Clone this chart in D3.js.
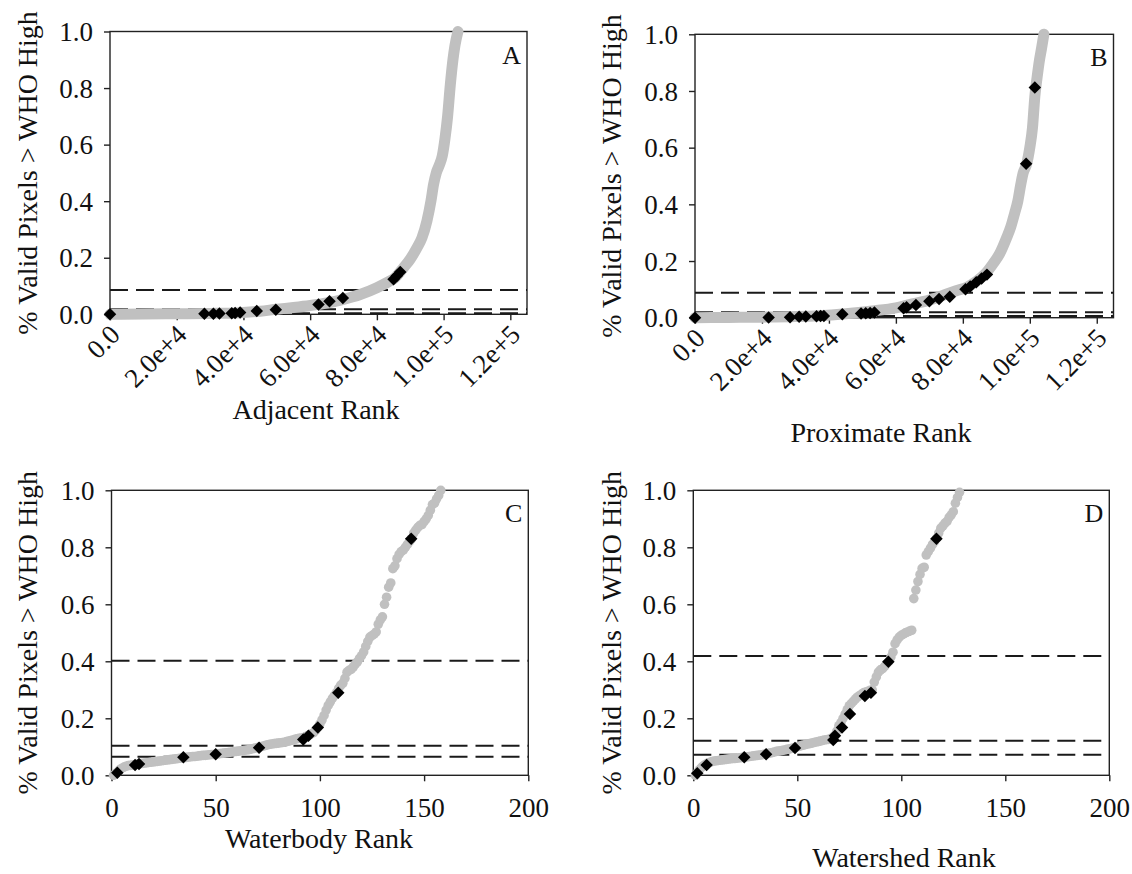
<!DOCTYPE html>
<html lang="en">
<head>
  <meta charset="UTF-8">
  <title>% Valid Pixels > WHO High by rank</title>
  <script src="https://d3js.org/d3.v7.min.js"></script>
  <style>
    body { margin: 0; background: #fff; }
    text { font-family: "Liberation Serif", "Times New Roman", serif; fill: #111; }
  </style>
</head>
<body>
<script>
  // ---- data ----
  const yTickValues = [0, 0.2, 0.4, 0.6, 0.8, 1.0];
  const yTickLabels = ["0.0", "0.2", "0.4", "0.6", "0.8", "1.0"];
  const bigTickValues = [0, 20000, 40000, 60000, 80000, 100000, 120000];
  const bigTickLabels = ["0.0", "2.0e+4", "4.0e+4", "6.0e+4", "8.0e+4", "1.0e+5", "1.2e+5"];
  const smallTickValues = [0, 50, 100, 150, 200];
  const smallTickLabels = ["0", "50", "100", "150", "200"];

  const panelLetters = ["A", "B", "C", "D"];
  const xTitles = ["Adjacent Rank", "Proximate Rank", "Waterbody Rank", "Watershed Rank"];
  const yTitle = "% Valid Pixels > WHO High";

  // dashed reference levels
  const linesA = [0.086, 0.018, 0.004];
  const linesB = [0.088, 0.019, 0.006];
  const linesC = [0.402, 0.104, 0.065];
  const linesD = [0.419, 0.121, 0.072];

  // grey curve, adjacent pixels (rank, value)
  const greyA = [[0, 0], [10000, 0.001], [20000, 0.002], [30000, 0.003], [38000, 0.005], [45000, 0.011],
    [50000, 0.018], [55000, 0.024], [60000, 0.031], [65000, 0.040], [70000, 0.053], [75000, 0.070],
    [80000, 0.094], [83000, 0.112], [85500, 0.13], [88000, 0.165], [90000, 0.195], [92000, 0.235],
    [93500, 0.27], [95000, 0.33], [96200, 0.40], [97000, 0.46], [97800, 0.50], [98800, 0.53],
    [99600, 0.56], [100400, 0.62], [101200, 0.70], [102000, 0.81], [102800, 0.90], [103400, 0.95], [104300, 1.0]];
  const greyB = [[0, 0], [10000, 0.001], [20000, 0.002], [30000, 0.004], [37000, 0.007], [45000, 0.014],
    [53000, 0.024], [60000, 0.035], [64000, 0.046], [70000, 0.062], [74800, 0.082], [78000, 0.095],
    [81300, 0.108], [84000, 0.128], [86700, 0.155], [89000, 0.19], [91000, 0.226], [93000, 0.28],
    [94300, 0.32], [95500, 0.37], [96400, 0.41], [97300, 0.47], [98000, 0.51], [99100, 0.544],
    [100000, 0.60], [100800, 0.67], [101500, 0.78], [102200, 0.85], [102900, 0.91], [103500, 0.95], [104200, 1.0]];

  // grey points, waterbody rank 1..158
  const greyC = [
    0.000, 0.006, 0.012, 0.020, 0.025, 0.029, 0.032, 0.034, 0.035, 0.036,
    0.037, 0.039, 0.040, 0.041, 0.042, 0.043, 0.044, 0.045, 0.046, 0.047,
    0.048, 0.049, 0.050, 0.051, 0.052, 0.053, 0.054, 0.055, 0.056, 0.057,
    0.058, 0.059, 0.060, 0.061, 0.062, 0.063, 0.064, 0.065, 0.066, 0.066,
    0.067, 0.068, 0.069, 0.070, 0.070, 0.071, 0.072, 0.073, 0.073, 0.074,
    0.075, 0.076, 0.077, 0.078, 0.079, 0.080, 0.081, 0.082, 0.083, 0.084,
    0.085, 0.086, 0.087, 0.088, 0.089, 0.090, 0.092, 0.094, 0.096, 0.097,
    0.099, 0.101, 0.103, 0.105, 0.107, 0.109, 0.110, 0.111, 0.112, 0.113,
    0.114, 0.115, 0.116, 0.118, 0.120, 0.122, 0.124, 0.126, 0.128, 0.130,
    0.131, 0.132, 0.135, 0.139, 0.142, 0.146, 0.150, 0.158, 0.168, 0.180,
    0.194, 0.210, 0.229, 0.245, 0.258, 0.270, 0.280, 0.290, 0.305, 0.316,
    0.323, 0.340, 0.362, 0.368, 0.372, 0.380, 0.390, 0.398, 0.410, 0.420,
    0.433, 0.452, 0.470, 0.485, 0.490, 0.495, 0.503, 0.530, 0.545, 0.556,
    0.600, 0.625, 0.660, 0.675, 0.725, 0.735, 0.760, 0.775, 0.785, 0.790,
    0.800, 0.810, 0.820, 0.830, 0.850, 0.860, 0.870, 0.877, 0.880, 0.890,
    0.900, 0.912, 0.930, 0.950, 0.955, 0.970, 0.982, 1.000];

  // grey points, watershed rank 1..128
  const greyD = [
    0.000, 0.010, 0.020, 0.028, 0.034, 0.039, 0.043, 0.046, 0.048, 0.050,
    0.051, 0.052, 0.053, 0.054, 0.055, 0.056, 0.057, 0.058, 0.059, 0.059,
    0.060, 0.061, 0.062, 0.063, 0.064, 0.065, 0.066, 0.067, 0.068, 0.069,
    0.070, 0.071, 0.072, 0.074, 0.075, 0.077, 0.078, 0.080, 0.082, 0.084,
    0.085, 0.086, 0.088, 0.089, 0.091, 0.092, 0.094, 0.096, 0.098, 0.100,
    0.102, 0.104, 0.106, 0.108, 0.110, 0.111, 0.113, 0.115, 0.117, 0.118,
    0.120, 0.122, 0.124, 0.125, 0.126, 0.128, 0.133, 0.140, 0.155, 0.174,
    0.185, 0.200, 0.215, 0.230, 0.244, 0.252, 0.260, 0.268, 0.275, 0.280,
    0.285, 0.290, 0.292, 0.295, 0.298, 0.300, 0.327, 0.345, 0.362, 0.370,
    0.374, 0.382, 0.392, 0.400, 0.415, 0.432, 0.462, 0.475, 0.485, 0.491,
    0.495, 0.500, 0.503, 0.506, 0.509, 0.620, 0.650, 0.680, 0.705, 0.726,
    0.730, 0.773, 0.785, 0.797, 0.810, 0.820, 0.832, 0.850, 0.867, 0.875,
    0.885, 0.891, 0.905, 0.914, 0.925, 0.955, 0.975, 0.993];

  // black diamonds (rank, value)
  const blackA = [[0, 0], [28300, 0.002], [31000, 0.002], [32800, 0.003], [36500, 0.004], [37500, 0.005],
    [39000, 0.006], [44000, 0.012], [49700, 0.016], [62500, 0.035], [65800, 0.046], [69800, 0.058],
    [85000, 0.124], [86000, 0.136], [87000, 0.150]];
  const blackB = [[0, 0], [22000, 0.001], [28400, 0.002], [31100, 0.003], [33100, 0.004], [36300, 0.005],
    [37500, 0.006], [38500, 0.006], [44000, 0.012], [49600, 0.015], [51000, 0.016], [52300, 0.017],
    [53600, 0.018], [62300, 0.033], [63200, 0.037], [66000, 0.045], [70000, 0.058], [72900, 0.066],
    [76100, 0.074], [80800, 0.100], [82200, 0.110], [84000, 0.125], [85600, 0.138], [87200, 0.152],
    [98900, 0.543], [101500, 0.812]];
  const blackC = [[2.8, 0.009], [11.3, 0.036], [13.2, 0.040], [34.5, 0.063], [50, 0.074], [70.8, 0.097],
    [92, 0.126], [94.5, 0.139], [99, 0.168], [108.8, 0.290], [143.8, 0.830]];
  const blackD = [[1.9, 0.007], [6.4, 0.036], [24.5, 0.063], [35, 0.074], [48.9, 0.096], [67.3, 0.124],
    [68.1, 0.139], [71.5, 0.168], [75.3, 0.215], [82.5, 0.278], [85.4, 0.290], [93.8, 0.398], [116.9, 0.830]];

  // ---- layout ----
  const W = 1132, H = 874;
  const tickFont = 27, titleFont = 28;
  const panels = [
    { box: [110, 527, 31.5, 314.3], xmax: 125000, ticks: bigTickValues, labels: bigTickLabels,
      grey: greyA, black: blackA, lines: linesA, titleX: 316, titleY: 419, yTitleX: 37 },
    { box: [695, 1113.5, 34.3, 317.7], xmax: 125000, ticks: bigTickValues, labels: bigTickLabels,
      grey: greyB, black: blackB, lines: linesB, titleX: 881, titleY: 442, yTitleX: 621 },
    { box: [111.5, 528.3, 490.3, 775.3], xmax: 200, ticks: smallTickValues, labels: smallTickLabels,
      grey: greyC, black: blackC, lines: linesC, titleX: 319, titleY: 848, yTitleX: 37 },
    { box: [693.3, 1109.3, 490.3, 775.3], xmax: 200, ticks: smallTickValues, labels: smallTickLabels,
      grey: greyD, black: blackD, lines: linesD, titleX: 904, titleY: 867, yTitleX: 621 }
  ];

  const svg = d3.select("body").append("svg")
    .attr("width", W)
    .attr("height", H);

  panels.forEach((p, i) => {
    const [x0, x1, y0, y1] = p.box;
    const x = d3.scaleLinear().domain([0, p.xmax]).range([x0, x1]);
    const y = d3.scaleLinear().domain([0, 1]).range([y1, y0]);
    const g = svg.append("g");

    // frame
    g.append("rect")
      .attr("x", x0).attr("y", y0)
      .attr("width", x1 - x0).attr("height", y1 - y0)
      .attr("fill", "none")
      .attr("stroke", "#222")
      .attr("stroke-width", 1.4);

    // y axis
    const yAxis = g.append("g")
      .attr("transform", "translate(" + x0 + ",0)")
      .call(d3.axisLeft(y).tickValues(yTickValues)
        .tickFormat((d, k) => yTickLabels[k]).tickSize(6).tickSizeOuter(0).tickPadding(11));
    yAxis.select(".domain").remove();
    yAxis.selectAll("line").attr("stroke", "#222").attr("stroke-width", 1.4);
    yAxis.selectAll("text")
      .attr("font-size", tickFont)
      .attr("fill", "#111")
      .attr("dy", "0.34em");

    // x axis
    const xAxis = g.append("g")
      .attr("transform", "translate(0," + y1 + ")")
      .call(d3.axisBottom(x).tickValues(p.ticks)
        .tickFormat((d, k) => p.labels[k]).tickSize(6).tickSizeOuter(0));
    xAxis.select(".domain").remove();
    xAxis.selectAll("line").attr("stroke", "#222").attr("stroke-width", 1.4);
    const xt = xAxis.selectAll("text")
      .attr("font-size", tickFont)
      .attr("fill", "#111");
    if (p.xmax > 1000) {
      // rotated scientific labels
      xt.attr("text-anchor", "end")
        .attr("x", null).attr("y", null).attr("dy", null)
        .attr("transform", "translate(11,22) rotate(-45)");
    } else {
      xt.attr("y", 23).attr("dy", "0.71em");
    }

    // dashed reference lines
    g.selectAll(".ref")
      .data(p.lines)
      .join("line")
      .attr("x1", x0).attr("x2", x1)
      .attr("y1", d => y(d)).attr("y2", d => y(d))
      .attr("stroke", "#1a1a1a")
      .attr("stroke-width", 2)
      .attr("stroke-dasharray", "18,8");

    // grey series
    if (p.xmax > 1000) {
      const line = d3.line().x(d => x(d[0])).y(d => y(d[1])).curve(d3.curveMonotoneX);
      g.append("path")
        .attr("d", line(p.grey))
        .attr("fill", "none")
        .attr("stroke", "#c0c0c0")
        .attr("stroke-width", 11)
        .attr("stroke-linecap", "round")
        .attr("stroke-linejoin", "round");
    } else {
      g.selectAll(".grey")
        .data(p.grey)
        .join("circle")
        .attr("cx", (d, k) => x(k + 1))
        .attr("cy", d => y(d))
        .attr("r", 4.8)
        .attr("fill", "#c0c0c0");
    }

    // black diamonds
    const diamond = d3.symbol(d3.symbolSquare, 78);
    g.selectAll(".dia")
      .data(p.black)
      .join("path")
      .attr("d", diamond)
      .attr("transform", d => "translate(" + x(d[0]) + "," + y(d[1]) + ") rotate(45)")
      .attr("fill", "#000");

    // panel letter
    g.append("text")
      .attr("x", x1 - 6)
      .attr("y", y0 + 32)
      .attr("text-anchor", "end")
      .attr("font-size", 26)
      .text(panelLetters[i]);

    // axis titles
    g.append("text")
      .attr("x", p.titleX)
      .attr("y", p.titleY)
      .attr("text-anchor", "middle")
      .attr("font-size", titleFont)
      .text(xTitles[i]);

    g.append("text")
      .attr("transform", "translate(" + p.yTitleX + "," + ((y0 + y1) / 2) + ") rotate(-90)")
      .attr("text-anchor", "middle")
      .attr("font-size", titleFont)
      .text(yTitle);
  });
</script>
</body>
</html>
